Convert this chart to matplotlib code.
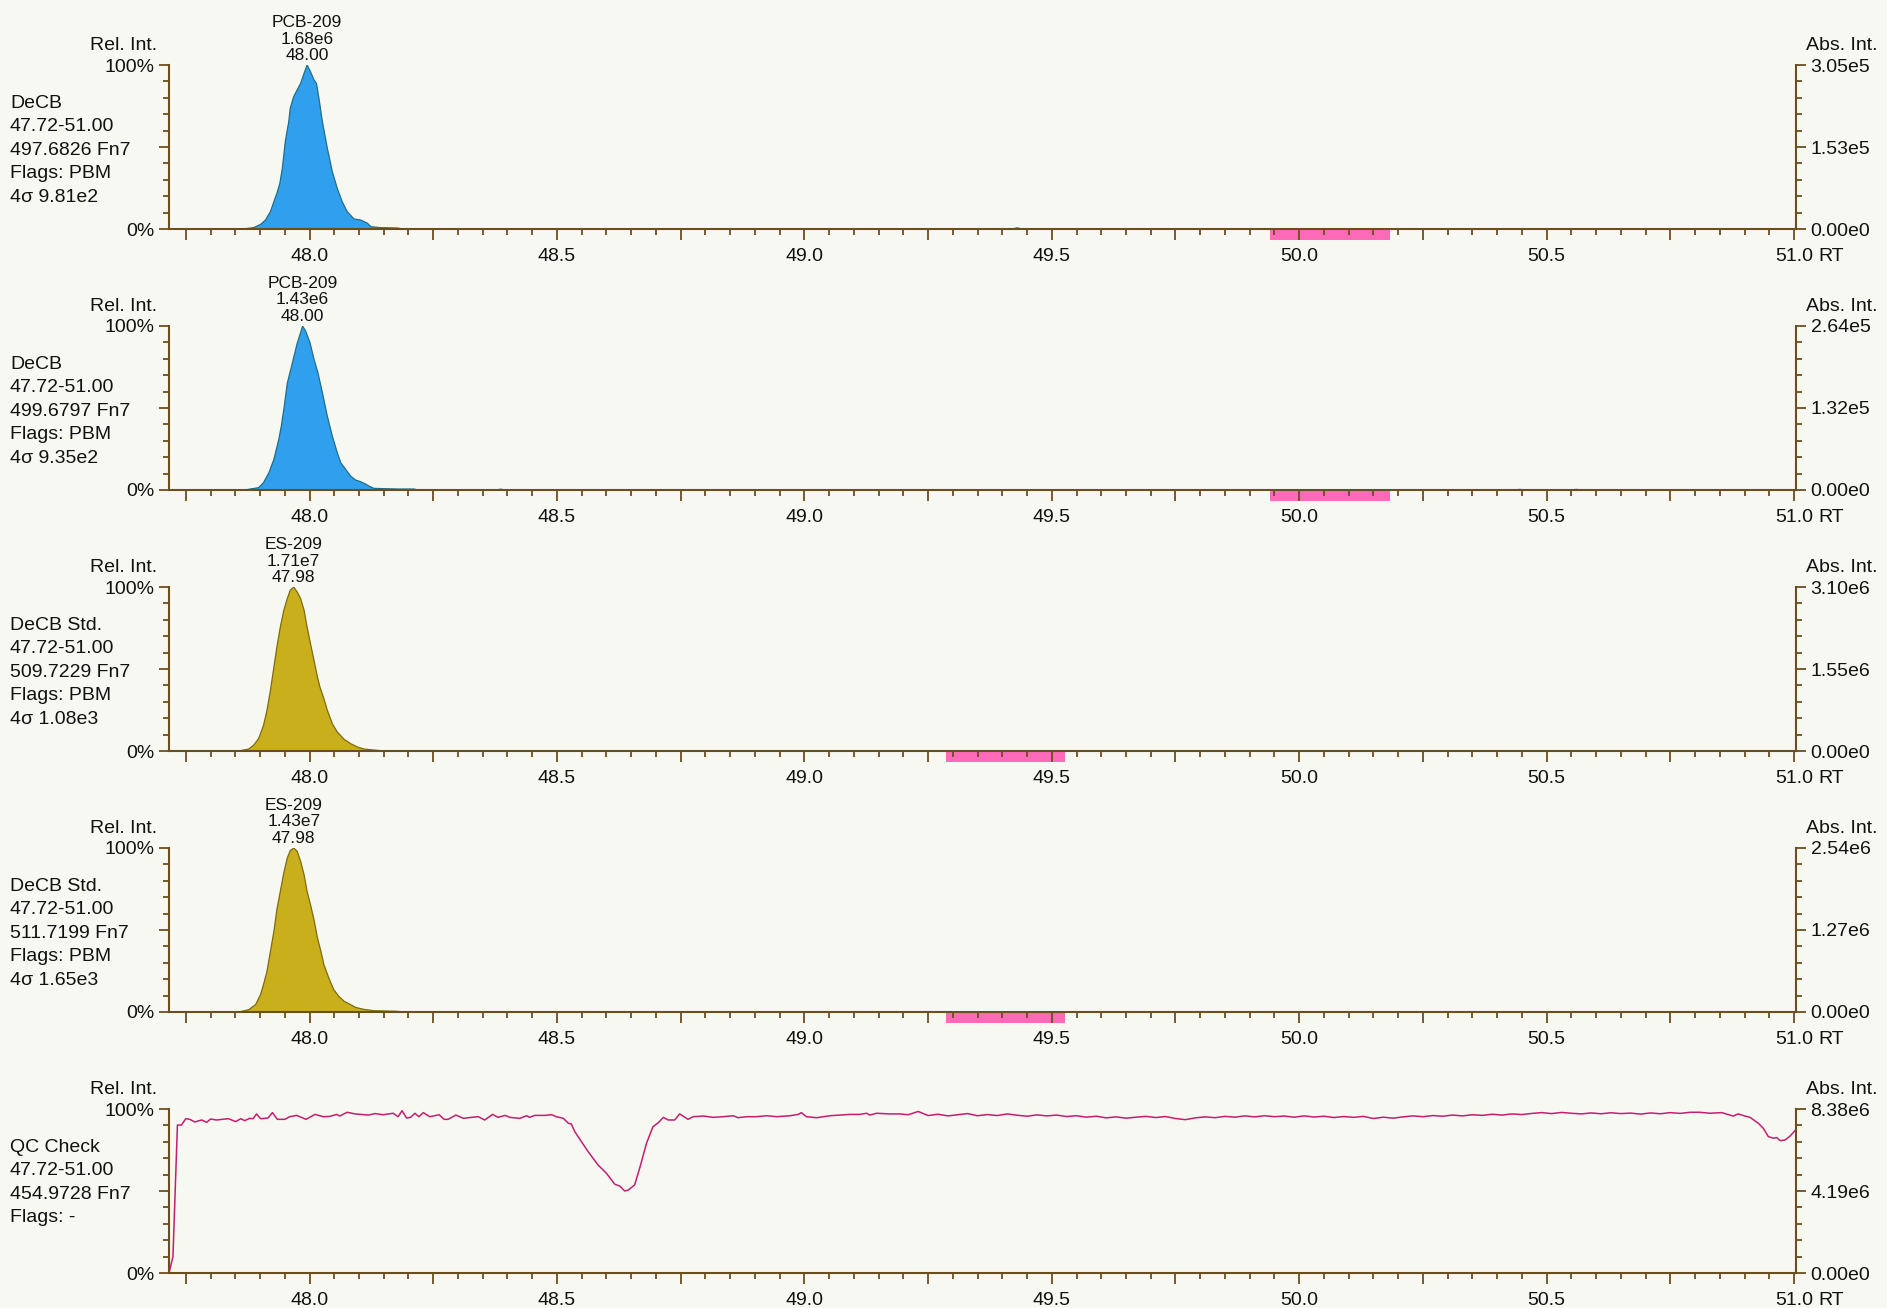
import math
import matplotlib
matplotlib.use("Agg")
import matplotlib.pyplot as plt
import matplotlib.transforms as mtransforms
from matplotlib.patches import Rectangle
from matplotlib.ticker import MultipleLocator, FixedLocator, FixedFormatter

plt.rcParams['font.family'] = ['Liberation Sans', 'DejaVu Sans']

W, H, DPI = 1887, 1308, 100
BG = '#F8F8F3'
AXIS = '#6B4E1E'
BLUE, BLUE_EDGE = '#30A0EE', '#1F6F86'
GOLD, GOLD_EDGE = '#CAAF1C', '#7D6C0E'
QC_COLOR = '#C41E6E'
PINK = '#FF6AB8'

RT_MIN, RT_MAX = 47.716, 51.004

# ---- trace data (retention time, relative intensity in %) ----
rt_pcb_497 = [47.860, 47.870, 47.887, 47.901, 47.911, 47.921, 47.928, 47.934, 47.940, 47.945,
              47.951, 47.958, 47.961, 47.968, 47.975, 47.982, 47.989, 47.995, 48.002, 48.009,
              48.014, 48.019, 48.026, 48.036, 48.046, 48.056, 48.066, 48.076, 48.090, 48.103,
              48.117, 48.124, 48.144, 48.178, 48.190, 49.420, 49.430, 49.440]
rel_pcb_497 = [0.0, 0.2, 0.8, 2.8, 5.5, 10.6, 16.7, 21.7, 27.8, 36.9,
               53.3, 65.4, 73.6, 80.7, 84.8, 88.8, 94.9, 100.0, 95.9, 90.9,
               88.8, 79.7, 65.4, 49.2, 35.0, 24.8, 16.7, 10.6, 6.1, 5.5,
               3.5, 1.4, 0.8, 0.6, 0.0, 0.0, 0.7, 0.0]

rt_pcb_499 = [47.860, 47.870, 47.880, 47.897, 47.907, 47.918, 47.928, 47.938, 47.943, 47.948,
              47.955, 47.965, 47.975, 47.982, 47.986, 47.992, 48.001, 48.009, 48.017, 48.026,
              48.036, 48.046, 48.056, 48.063, 48.073, 48.083, 48.093, 48.103, 48.114, 48.120,
              48.130, 48.151, 48.178, 48.211, 48.220, 48.376, 48.386, 48.396,
              50.436, 50.446, 50.456, 50.550, 50.560, 50.570]
rel_pcb_499 = [0.0, 0.0, 0.6, 1.4, 4.5, 10.6, 18.7, 31.0, 39.0, 49.0,
               65.0, 77.0, 89.4, 96.0, 100.0, 97.0, 89.8, 79.7, 71.5, 59.3,
               45.0, 32.9, 22.8, 16.7, 12.6, 8.5, 6.1, 5.1, 3.5, 2.4,
               1.0, 0.8, 0.6, 0.6, 0.0, 0.0, 0.5, 0.0,
               0.0, 0.4, 0.0, 0.0, 0.4, 0.0]

rt_es_509 = [47.850, 47.860, 47.877, 47.887, 47.897, 47.907, 47.914, 47.921, 47.928, 47.934,
             47.941, 47.948, 47.955, 47.961, 47.968, 47.975, 47.982, 47.989, 47.995, 48.002,
             48.009, 48.016, 48.021, 48.028, 48.036, 48.046, 48.056, 48.070, 48.083, 48.097,
             48.110, 48.130, 48.144, 48.150]
rel_es_509 = [0.0, 0.2, 1.2, 3.5, 7.5, 15.6, 24.8, 37.0, 51.2, 63.4,
              75.6, 85.8, 92.9, 98.0, 100.0, 97.0, 92.9, 85.8, 75.6, 65.4,
              55.3, 45.1, 39.0, 32.9, 24.8, 16.7, 11.6, 7.1, 4.5, 2.4,
              1.2, 0.6, 0.2, 0.0]

rt_es_511 = [47.850, 47.860, 47.877, 47.891, 47.901, 47.907, 47.914, 47.921, 47.928, 47.934,
             47.941, 47.948, 47.955, 47.961, 47.968, 47.975, 47.982, 47.989, 47.995, 48.002,
             48.009, 48.016, 48.023, 48.029, 48.039, 48.049, 48.059, 48.070, 48.083, 48.093,
             48.110, 48.130, 48.157, 48.178, 48.190]
rel_es_511 = [0.0, 0.2, 1.4, 4.5, 10.6, 16.7, 24.8, 37.0, 49.2, 62.4,
              73.6, 84.8, 93.9, 98.4, 100.0, 98.0, 91.9, 83.7, 73.6, 65.4,
              56.3, 45.1, 37.0, 28.9, 20.7, 13.6, 9.6, 6.5, 4.5, 2.8,
              1.6, 0.8, 0.6, 0.4, 0.0]

rt_qc = [47.716, 47.724, 47.733, 47.741, 47.750, 47.758, 47.768, 47.782, 47.792, 47.800,
         47.812, 47.836, 47.851, 47.861, 47.869, 47.879, 47.886, 47.893, 47.901, 47.916,
         47.925, 47.935, 47.950, 47.960, 47.974, 47.993, 48.011, 48.028, 48.041, 48.055,
         48.061, 48.076, 48.092, 48.119, 48.132, 48.149, 48.169, 48.179, 48.187, 48.196,
         48.204, 48.213, 48.221, 48.230, 48.243, 48.253, 48.262, 48.272, 48.280, 48.296,
         48.311, 48.327, 48.341, 48.354, 48.370, 48.381, 48.395, 48.405, 48.425, 48.439,
         48.445, 48.455, 48.476, 48.489, 48.499, 48.513, 48.523, 48.529, 48.536, 48.563,
         48.583, 48.600, 48.617, 48.627, 48.637, 48.644, 48.657, 48.668, 48.681, 48.694,
         48.705, 48.715, 48.725, 48.738, 48.748, 48.765, 48.775, 48.796, 48.816, 48.836,
         48.856, 48.866, 48.883, 48.903, 48.924, 48.944, 48.971, 48.988, 48.994, 49.004,
         49.025, 49.052, 49.072, 49.092, 49.112, 49.126, 49.132, 49.146, 49.173, 49.193,
         49.21, 49.23, 49.25, 49.27, 49.29, 49.31, 49.33, 49.35, 49.37, 49.39,
         49.41, 49.43, 49.45, 49.47, 49.49, 49.51, 49.53, 49.55, 49.57, 49.59,
         49.61, 49.63, 49.65, 49.67, 49.69, 49.71, 49.73, 49.75, 49.77, 49.79,
         49.81, 49.83, 49.85, 49.87, 49.89, 49.91, 49.93, 49.95, 49.97, 49.99,
         50.01, 50.03, 50.05, 50.07, 50.09, 50.11, 50.13, 50.15, 50.17, 50.19,
         50.21, 50.23, 50.25, 50.27, 50.29, 50.31, 50.33, 50.35, 50.37, 50.39,
         50.41, 50.43, 50.45, 50.47, 50.49, 50.51, 50.53, 50.55, 50.57, 50.59,
         50.61, 50.63, 50.65, 50.67, 50.69, 50.71, 50.73, 50.75, 50.77, 50.79,
         50.810, 50.830, 50.854, 50.877, 50.887, 50.901, 50.911, 50.928, 50.938,
         50.948, 50.958, 50.965, 50.972, 50.982, 50.992, 51.002]
rel_qc = [0.0, 10.0, 90.2, 90.2, 94.1, 93.7, 92.1, 93.3, 91.9, 93.9,
          93.3, 94.1, 92.3, 94.1, 92.9, 94.3, 94.1, 97.0, 94.1, 94.5,
          97.8, 93.7, 93.7, 95.3, 96.1, 93.7, 96.7, 95.3, 95.5, 96.7,
          95.7, 98.0, 97.0, 96.3, 97.2, 96.5, 97.4, 95.3, 99.0, 94.5,
          94.9, 97.4, 95.3, 97.8, 95.3, 95.9, 96.5, 93.7, 93.7, 96.3,
          94.3, 94.9, 95.3, 93.3, 96.7, 94.9, 96.1, 94.9, 94.3, 95.9,
          94.9, 96.1, 96.1, 96.5, 95.3, 94.3, 91.3, 90.9, 86.2, 74.0,
          65.9, 60.8, 54.1, 53.0, 50.0, 50.6, 53.7, 64.8, 79.1, 89.2,
          91.7, 94.9, 93.3, 93.3, 97.0, 93.7, 95.3, 95.7, 94.9, 95.3,
          95.9, 94.7, 95.3, 95.3, 95.9, 95.3, 95.9, 96.7, 97.8, 95.3,
          94.7, 95.9, 96.3, 96.7, 96.7, 97.4, 96.3, 97.4, 97.0, 97.0,
          96.5, 98.5, 96.0, 96.8, 95.8, 96.5, 97.2, 95.9, 96.6, 96.0,
          97.0, 96.2, 95.6, 96.4, 95.8, 96.3, 95.4, 95.9, 95.0, 95.6,
          94.6, 95.2, 94.4, 95.0, 95.5, 94.8, 95.4, 94.2, 93.5, 94.6,
          95.2, 94.7, 95.5, 95.0, 95.8, 95.2, 95.9, 95.3, 95.7, 95.0,
          95.8, 95.1, 95.6, 94.8, 95.4, 94.9, 95.5, 94.2, 95.0, 94.4,
          95.2, 95.8, 95.3, 96.0, 95.6, 96.3, 95.8, 96.5, 96.1, 96.8,
          96.3, 97.0, 96.6, 97.3, 97.8, 97.2, 97.9, 97.4, 97.0, 97.6,
          97.1, 97.7, 97.2, 97.5, 96.9, 97.6, 97.1, 97.8, 97.3, 98.0,
          98.0, 97.4, 97.8, 95.7, 97.0, 95.7, 94.9, 91.3, 88.2,
          83.2, 82.2, 82.6, 80.7, 81.1, 83.5, 86.8]

# ---- per-panel annotations ----
abs_max = [3.05e5, 2.64e5, 3.10e6, 2.54e6, 8.38e6]
info_lines = [
    ["DeCB", "47.72-51.00", "497.6826 Fn7", "Flags: PBM", "4σ 9.81e2"],
    ["DeCB", "47.72-51.00", "499.6797 Fn7", "Flags: PBM", "4σ 9.35e2"],
    ["DeCB Std.", "47.72-51.00", "509.7229 Fn7", "Flags: PBM", "4σ 1.08e3"],
    ["DeCB Std.", "47.72-51.00", "511.7199 Fn7", "Flags: PBM", "4σ 1.65e3"],
    ["QC Check", "47.72-51.00", "454.9728 Fn7", "Flags: -"],
]
peak_labels = [
    ["PCB-209", "1.68e6", "48.00"],
    ["PCB-209", "1.43e6", "48.00"],
    ["ES-209", "1.71e7", "47.98"],
    ["ES-209", "1.43e7", "47.98"],
    None,
]
window_bars = [(49.940, 50.183), (49.940, 50.183), (49.286, 49.527), (49.286, 49.527), None]

traces = [(rt_pcb_497, rel_pcb_497, 'fill', BLUE, BLUE_EDGE),
          (rt_pcb_499, rel_pcb_499, 'fill', BLUE, BLUE_EDGE),
          (rt_es_509, rel_es_509, 'fill', GOLD, GOLD_EDGE),
          (rt_es_511, rel_es_511, 'fill', GOLD, GOLD_EDGE),
          (rt_qc, rel_qc, 'line', QC_COLOR, QC_COLOR)]


def sci_label(v):
    if v == 0:
        return "0.00e0"
    e = int(math.floor(math.log10(v)))
    m = math.floor(v / 10 ** e * 100 + 0.5 + 1e-9) / 100
    return f"{m:.2f}e{e}"


FS = 14
FS_PEAK = 12.5
XPAD = 6
fig = plt.figure(figsize=(W / DPI, H / DPI), dpi=DPI, facecolor=BG)

AX_L, AX_R = 169, 1796
TOP0, PH, STEP = 65, 164, 261


def ftxt(x, y, s, **kw):
    fig.text(x / W, 1 - y / H, s, fontsize=kw.pop('fontsize', FS), color='#111111',
             va='baseline', **kw)


for i, (rt, rel, kind, col, edge) in enumerate(traces):
    top = TOP0 + STEP * i
    ax = fig.add_axes([AX_L / W, 1 - (top + PH) / H, (AX_R - AX_L) / W, PH / H])
    ax.set_facecolor(BG)
    ax.set_xlim(RT_MIN, RT_MAX)
    ax.set_ylim(0, 100)

    if kind == 'fill':
        ax.fill_between(rt, rel, 0, facecolor=col, edgecolor='none', zorder=2)
        ax.plot(rt, rel, color=edge, lw=0.9, zorder=2.1)
    else:
        ax.plot(rt, rel, color=col, lw=1.1, zorder=2)

    for s in ('top', 'right'):
        ax.spines[s].set_visible(False)
    for s in ('left', 'bottom'):
        ax.spines[s].set_color(AXIS)
        ax.spines[s].set_linewidth(1.5)

    ax.xaxis.set_major_locator(MultipleLocator(0.25))
    ax.xaxis.set_minor_locator(MultipleLocator(0.05))
    major_x = [t for t in ax.get_xticks() if RT_MIN <= t <= RT_MAX]
    ax.xaxis.set_major_locator(FixedLocator(major_x))
    ax.xaxis.set_major_formatter(FixedFormatter(
        [f"{t:.1f}" if abs(t * 2 - round(t * 2)) < 1e-6 else "" for t in major_x]))

    ax.yaxis.set_major_locator(FixedLocator([0, 50, 100]))
    ax.yaxis.set_major_formatter(FixedFormatter(["0%", "", "100%"]))
    ax.yaxis.set_minor_locator(MultipleLocator(10))

    ax.tick_params(which='both', direction='out', color=AXIS, width=1.3,
                   labelsize=FS, labelcolor='#111111')
    ax.tick_params(axis='x', which='major', length=8, pad=XPAD)
    ax.tick_params(axis='x', which='minor', length=4.3)
    ax.tick_params(axis='y', which='major', length=7.5, pad=3)
    ax.tick_params(axis='y', which='minor', length=4)

    # secondary absolute-intensity scale
    am = abs_max[i]
    tw = ax.twinx()
    tw.set_ylim(0, am)
    for s in ('top', 'left', 'bottom'):
        tw.spines[s].set_visible(False)
    tw.spines['right'].set_color(AXIS)
    tw.spines['right'].set_linewidth(1.5)
    tw.yaxis.set_major_locator(FixedLocator([0, am / 2, am]))
    tw.yaxis.set_major_formatter(FixedFormatter([sci_label(0), sci_label(am / 2), sci_label(am)]))
    tw.yaxis.set_minor_locator(FixedLocator([am * k / 10 for k in range(11)]))
    tw.tick_params(which='both', direction='out', color=AXIS, width=1.3,
                   labelsize=FS, labelcolor='#111111')
    tw.tick_params(which='major', length=7.5, pad=3)
    tw.tick_params(which='minor', length=4)

    ax.annotate("RT", xy=(51.0, 0), xycoords=('data', 'axes fraction'),
                xytext=(17.5, -(8 + XPAD)), textcoords='offset points', ha='left', va='top',
                fontsize=FS, color='#111111')

    bar = window_bars[i]
    if bar is not None:
        trans = mtransforms.blended_transform_factory(ax.transData, ax.transAxes)
        ax.add_patch(Rectangle((bar[0], -10.5 / PH), bar[1] - bar[0], 10.5 / PH,
                               transform=trans, facecolor=PINK, edgecolor='none',
                               clip_on=False, zorder=1))

    # header texts
    ftxt(157, top - 15, "Rel. Int.", ha='right')
    ftxt(1877, top - 15, "Abs. Int.", ha='right')
    for k, line in enumerate(info_lines[i]):
        ftxt(10, top + 43 + 23.4 * k, line, ha='left')

    lab = peak_labels[i]
    if lab is not None:
        apex = rt[rel.index(max(rel))]
        xpx = AX_L + (apex - RT_MIN) / (RT_MAX - RT_MIN) * (AX_R - AX_L)
        for k, line in enumerate(lab):
            ftxt(xpx, top - 38 + 16.5 * k, line, ha='center', fontsize=FS_PEAK)

fig.savefig("out.png", dpi=DPI, facecolor=BG)
